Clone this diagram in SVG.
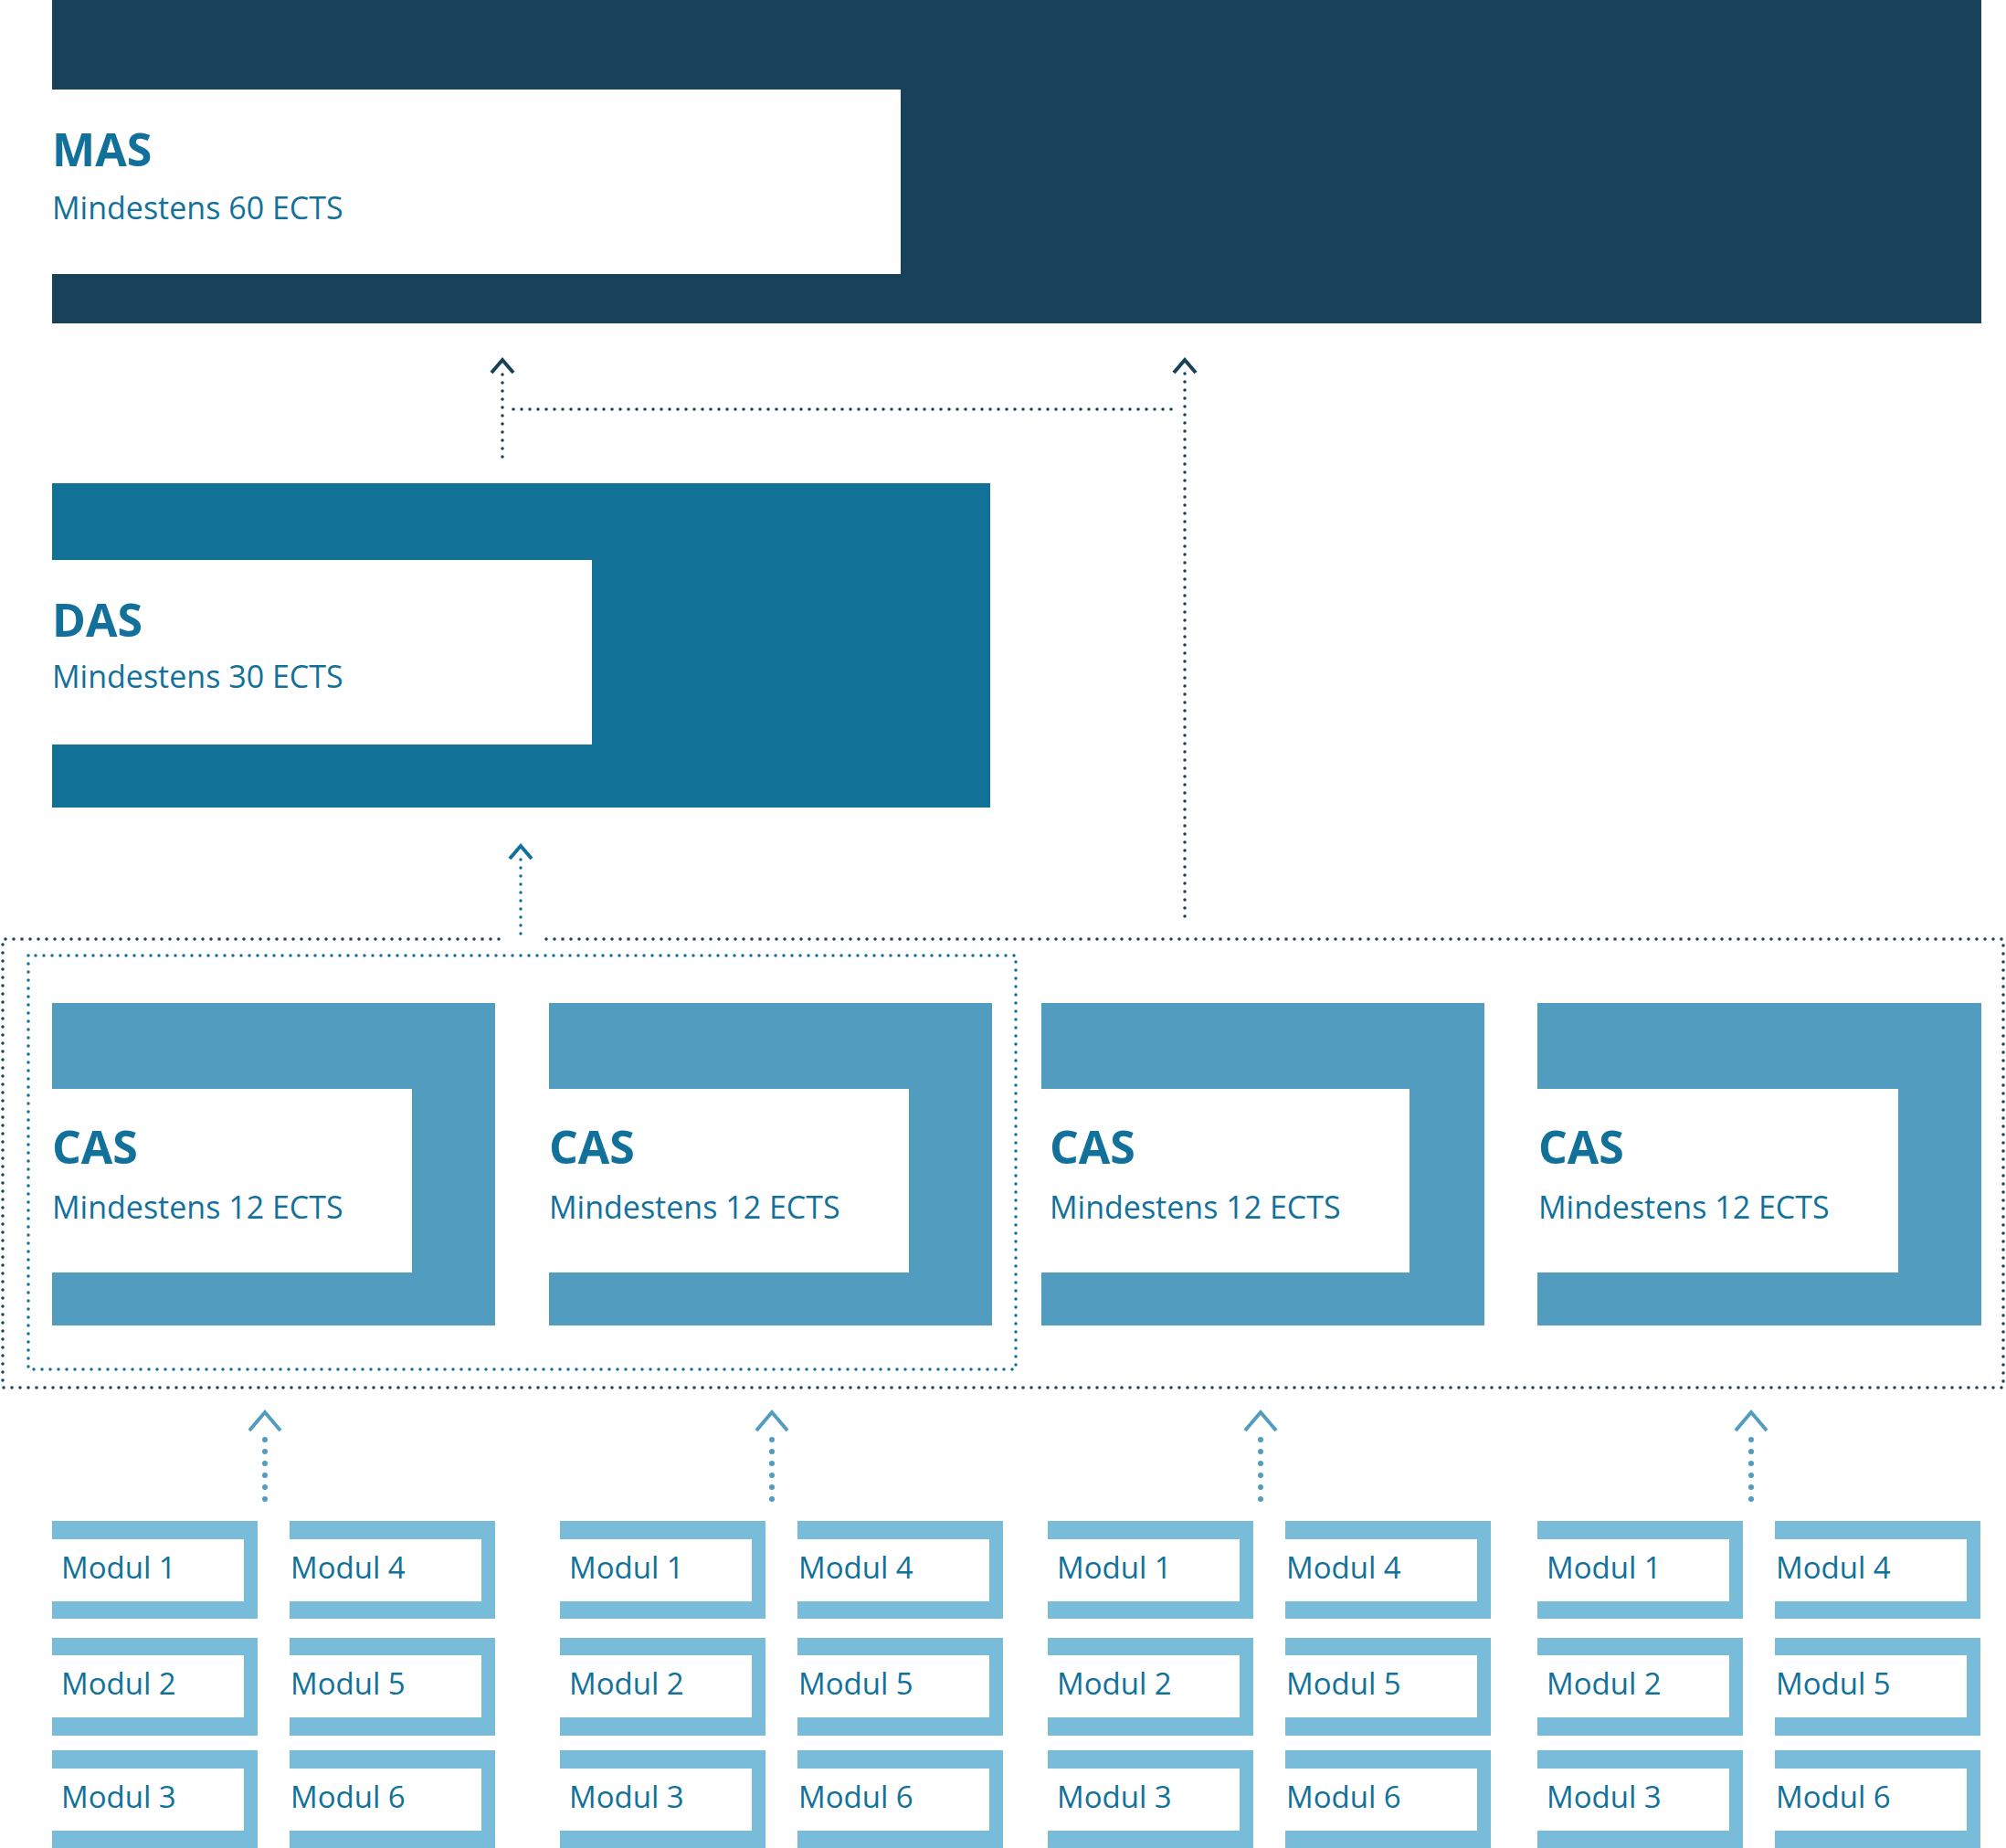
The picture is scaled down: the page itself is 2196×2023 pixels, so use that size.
<svg xmlns="http://www.w3.org/2000/svg" width="2196" height="2023" viewBox="0 0 2196 2023">
<defs>
<style>
text{font-family:"Open Sans","Liberation Sans",sans-serif;fill:#11719a}
.t{font-weight:700;font-size:50px}
.s{font-size:34px}
.m{font-size:33px}
.dot{fill:none;stroke-width:3.5;stroke-linecap:round;stroke-dasharray:0 9}
.dk{stroke:#18425a}
.md{stroke:#11719a}
.lt{stroke:#529cc0;stroke-width:6;stroke-dasharray:0 13}
.chev{fill:none;stroke-width:4}
.cas{fill:#529cc0}
.mod{fill:#78bcd9}
.w{fill:#fff}
</style>
</defs>
<rect width="2196" height="2023" fill="#fff"/>
<g id="mas"><rect x="57" y="0" width="2112" height="354" fill="#18425a"/><rect class="w" x="57" y="98" width="929" height="202"/><text class="t" x="57" y="182">MAS</text><text class="s" x="57" y="240">Mindestens 60 ECTS</text></g>
<g id="das"><rect x="57" y="529" width="1027" height="355" fill="#117196"/><rect class="w" x="57" y="613" width="591" height="202"/><text class="t" x="57" y="697">DAS</text><text class="s" x="57" y="753">Mindestens 30 ECTS</text></g>
<g id="cas1"><rect class="cas" x="57" y="1098" width="485" height="353"/><rect class="w" x="57" y="1192" width="394" height="201"/><text class="t" x="57" y="1274">CAS</text><text class="s" x="57" y="1334">Mindestens 12 ECTS</text></g>
<g id="cas2"><rect class="cas" x="601" y="1098" width="485" height="353"/><rect class="w" x="601" y="1192" width="394" height="201"/><text class="t" x="601" y="1274">CAS</text><text class="s" x="601" y="1334">Mindestens 12 ECTS</text></g>
<g id="cas3"><rect class="cas" x="1140" y="1098" width="485" height="353"/><rect class="w" x="1140" y="1192" width="403" height="201"/><text class="t" x="1149" y="1274">CAS</text><text class="s" x="1149" y="1334">Mindestens 12 ECTS</text></g>
<g id="cas4"><rect class="cas" x="1683" y="1098" width="486" height="353"/><rect class="w" x="1683" y="1192" width="395" height="201"/><text class="t" x="1684" y="1274">CAS</text><text class="s" x="1684" y="1334">Mindestens 12 ECTS</text></g>
<g id="modules">
<g id="m-a"><path class="mod" d="M57 1665h225v107h-225z"/><rect class="w" x="57" y="1685" width="210" height="68"/><text class="m" x="67" y="1728">Modul 1</text>
<path class="mod" d="M317 1665h225v107h-225z"/><rect class="w" x="317" y="1685" width="210" height="68"/><text class="m" x="318" y="1728">Modul 4</text>
<path class="mod" d="M57 1793h225v107h-225z"/><rect class="w" x="57" y="1812" width="210" height="68"/><text class="m" x="67" y="1855">Modul 2</text>
<path class="mod" d="M317 1793h225v107h-225z"/><rect class="w" x="317" y="1812" width="210" height="68"/><text class="m" x="318" y="1855">Modul 5</text>
<path class="mod" d="M57 1916h225v107h-225z"/><rect class="w" x="57" y="1936" width="210" height="68"/><text class="m" x="67" y="1979">Modul 3</text>
<path class="mod" d="M317 1916h225v107h-225z"/><rect class="w" x="317" y="1936" width="210" height="68"/><text class="m" x="318" y="1979">Modul 6</text></g>
<use href="#m-a" x="556"/>
<use href="#m-a" x="1090"/>
<use href="#m-a" x="1626"/>
</g>
<g id="connectors">
<path class="dot dk" d="M550 500V404"/><path class="chev dk" d="M538 408l12-14 12 14"/>
<path class="dot dk" d="M1297 1003V404"/><path class="chev dk" d="M1285 408l12-14 12 14"/>
<path class="dot dk" d="M562 448H1286"/>
<path class="dot md" d="M570 1022V937"/><path class="chev md" d="M558 940l12-14 12 14"/>
<path class="dot dk" d="M546 1028H3V1519H2193V1028H595"/>
<path class="dot md" d="M31 1046V1499H1112V1046z"/>
<g class="lt dot"><path d="M290 1641V1566"/><path d="M845 1641V1566"/><path d="M1380 1641V1566"/><path d="M1917 1641V1566"/></g>
<g class="chev" stroke="#529cc0" stroke-width="9"><path d="M273 1566l17-20 17 20"/><path d="M828 1566l17-20 17 20"/><path d="M1363 1566l17-20 17 20"/><path d="M1900 1566l17-20 17 20"/></g>
</g>
</svg>
